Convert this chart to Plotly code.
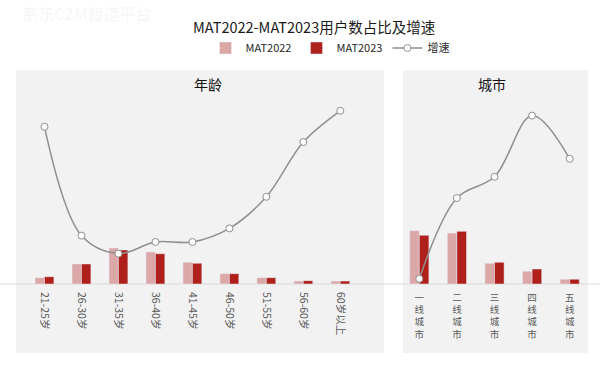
import plotly.graph_objects as go

# ---------------- data ----------------
age_cats = ["21-25岁", "26-30岁", "31-35岁", "36-40岁", "41-45岁", "46-50岁", "51-55岁", "56-60岁", "60岁以上"]
age_2022 = [4.5, 14.3, 25.7, 22.9, 15.5, 7.4, 4.5, 2.1, 2.1]
age_2023 = [5.2, 14.3, 24.3, 21.6, 14.8, 7.4, 4.5, 2.4, 2.1]
age_growth = [39.3, 12.1, 7.6, 10.5, 10.5, 13.9, 21.8, 35.5, 43.3]

city_cats = ["一线城市", "二线城市", "三线城市", "四线城市", "五线城市"]
city_2022 = [38.1, 36.4, 14.8, 9.1, 3.4]
city_2023 = [34.8, 37.6, 15.5, 10.7, 3.4]
city_growth = [1.3, 21.5, 26.8, 42.1, 31.3]

title_text = "MAT2022-MAT2023用户数占比及增速"
panel_titles = ["年龄", "城市"]
series_names = ["MAT2022", "MAT2023", "增速"]

# ---------------- style ----------------
W, H = 600, 367
C22 = "#dca7a7"
C23 = "#b0201a"
CLINE = "#8f8f8f"
PANEL = "#f2f2f2"
FONT = "Noto Sans CJK SC, Noto Sans, sans-serif"


def px_x(p):
    return p / W


def px_y(p):
    return 1 - p / H


y_dom = [px_y(284), px_y(100)]
bar_range = [0, 184 / 1.4]
growth_range = [0, 46]

city_tick = ["<br>".join(list(c)) for c in city_cats]

fig = go.Figure()

fig.add_trace(go.Bar(x=age_cats, y=age_2022, name=series_names[0], marker_color=C22,
                     xaxis="x", yaxis="y", legendgroup="a", offsetgroup="a"))
fig.add_trace(go.Bar(x=age_cats, y=age_2023, name=series_names[1], marker_color=C23,
                     xaxis="x", yaxis="y", legendgroup="b", offsetgroup="b"))
fig.add_trace(go.Scatter(x=age_cats, y=age_growth, name=series_names[2], mode="lines+markers",
                         line=dict(color=CLINE, width=1.5, shape="spline"),
                         marker=dict(size=7, color="white", line=dict(color=CLINE, width=1)),
                         xaxis="x", yaxis="y2", legendgroup="c"))

fig.add_trace(go.Bar(x=city_tick, y=city_2022, name=series_names[0], marker_color=C22,
                     xaxis="x2", yaxis="y3", legendgroup="a", showlegend=False, offsetgroup="a"))
fig.add_trace(go.Bar(x=city_tick, y=city_2023, name=series_names[1], marker_color=C23,
                     xaxis="x2", yaxis="y3", legendgroup="b", showlegend=False, offsetgroup="b"))
fig.add_trace(go.Scatter(x=city_tick, y=city_growth, name=series_names[2], mode="lines+markers",
                         line=dict(color=CLINE, width=1.5, shape="spline"),
                         marker=dict(size=7, color="white", line=dict(color=CLINE, width=1)),
                         xaxis="x2", yaxis="y4", legendgroup="c", showlegend=False))

tickfont_age = dict(family=FONT, size=10.5, color="#595959")
tickfont_city = dict(family=FONT, size=9.5, color="#595959")

fig.update_layout(
    width=W, height=H,
    margin=dict(l=0, r=0, t=0, b=0),
    paper_bgcolor="white", plot_bgcolor="rgba(0,0,0,0)",
    font=dict(family=FONT, color="#262626"),
    barmode="group", bargap=0.49, bargroupgap=0,
    showlegend=True,
    legend=dict(orientation="h", x=px_x(330), xanchor="center", y=px_y(48), yanchor="middle",
                font=dict(family=FONT, size=11, color="#262626"), bgcolor="rgba(0,0,0,0)",
                itemwidth=30, tracegroupgap=0),
    xaxis=dict(domain=[px_x(23.2), px_x(361.6)], anchor="y", showgrid=False, zeroline=False,
               showline=False, tickangle=90, tickfont=tickfont_age, ticks="", ticklabelstandoff=7),
    yaxis=dict(domain=y_dom, anchor="x", range=bar_range, visible=False),
    yaxis2=dict(domain=y_dom, anchor="x", overlaying="y", range=growth_range, visible=False),
    xaxis2=dict(domain=[px_x(400.5), px_x(588.5)], anchor="y3", showgrid=False, zeroline=False,
                showline=False, tickangle=0, tickfont=tickfont_city, ticks="", ticklabelstandoff=6),
    yaxis3=dict(domain=y_dom, anchor="x2", range=bar_range, visible=False),
    yaxis4=dict(domain=y_dom, anchor="x2", overlaying="y3", range=growth_range, visible=False),
    hovermode=False,
)

shapes = [
    dict(type="rect", xref="paper", yref="paper", x0=px_x(16), x1=px_x(384), y0=px_y(353), y1=px_y(70),
         fillcolor=PANEL, line=dict(width=0), layer="below"),
    dict(type="rect", xref="paper", yref="paper", x0=px_x(403), x1=px_x(588), y0=px_y(353), y1=px_y(70),
         fillcolor=PANEL, line=dict(width=0), layer="below"),
    dict(type="line", xref="paper", yref="paper", x0=0, x1=1, y0=px_y(284), y1=px_y(284),
         line=dict(color="#d9d9d9", width=1), layer="below"),
]
fig.update_layout(shapes=shapes)

annotations = [
    dict(text=title_text, xref="paper", yref="paper", x=px_x(314), y=px_y(26), xanchor="center",
         yanchor="middle", showarrow=False, font=dict(family=FONT, size=14.5, color="#1a1a1a")),
    dict(text=panel_titles[0], xref="paper", yref="paper", x=px_x(208), y=px_y(84), xanchor="center",
         yanchor="middle", showarrow=False, font=dict(family=FONT, size=14, color="#111111")),
    dict(text=panel_titles[1], xref="paper", yref="paper", x=px_x(492), y=px_y(84), xanchor="center",
         yanchor="middle", showarrow=False, font=dict(family=FONT, size=14, color="#111111")),
    dict(text="<b>京东C2M智造平台</b>", xref="paper", yref="paper", x=px_x(20), y=px_y(13), xanchor="left",
         yanchor="middle", showarrow=False, font=dict(family=FONT, size=16, color="rgba(0,0,0,0.045)")),
]
fig.update_layout(annotations=annotations)

fig.write_html("out.html", config={"displayModeBar": False},
               post_script="document.body.style.margin='0';document.body.style.overflow='hidden';")
